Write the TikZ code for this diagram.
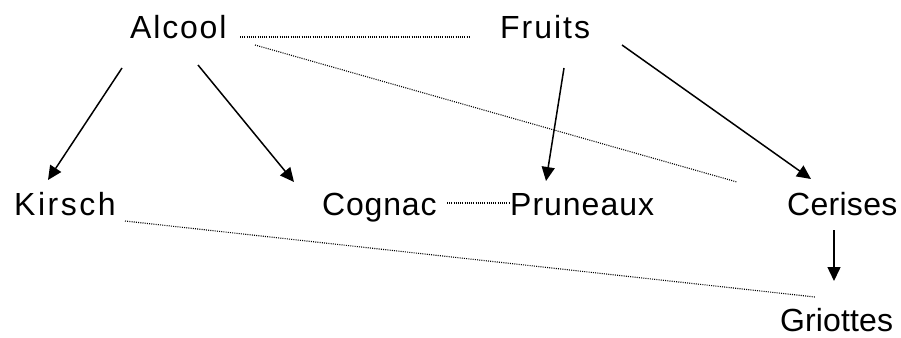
\documentclass[tikz,border=0pt]{standalone}
\usepackage{fontspec}
\setmainfont{Liberation Sans}
\usetikzlibrary{arrows.meta}
\begin{document}
\begin{tikzpicture}[x=1pt,y=-1pt,
  lbl/.style={anchor=base west,inner sep=0pt,font=\fontsize{32}{36}\selectfont\addfontfeature{LetterSpace=#1}},
  arr/.style={line width=1.5pt,-{Triangle[length=14pt,width=13pt]}},
  dots/.style={line width=1.1pt,dash pattern=on 1pt off 1.2pt}]
\useasboundingbox (0,0) rectangle (901,337);
\node[lbl=5.7] (alcool) at (130,38) {Alcool};
\node[lbl=6.2] (fruits) at (500,38) {Fruits};
\node[lbl=7.8] (kirsch) at (14,215) {Kirsch};
\node[lbl=2.6] (cognac) at (322,215) {Cognac};
\node[lbl=3.1] (pruneaux) at (510,215) {Pruneaux};
\node[lbl=0.9] (cerises) at (787,215) {Cerises};
\node[lbl=0.4] (griottes) at (780,331) {Griottes};
\draw[dots] ([shift={(110,-1)}]alcool.base west) -- ([shift={(-30,-1)}]fruits.base west);
\draw[dots] ([shift={(125,7)}]alcool.base west) -- ([shift={(-50,-33)}]cerises.base west);
\draw[arr] ([shift={(-8,30)}]alcool.base west) -- ([shift={(34,-35)}]kirsch.base west);
\draw[arr] ([shift={(68,27)}]alcool.base west) -- ([shift={(-28,-33)}]cognac.base west);
\draw[arr] ([shift={(64,30)}]fruits.base west) -- ([shift={(36,-34)}]pruneaux.base west);
\draw[arr] ([shift={(122,7)}]fruits.base west) -- ([shift={(24,-36)}]cerises.base west);
\draw[dots] ([shift={(125,-12)}]cognac.base west) -- ([shift={(-1,-12)}]pruneaux.base west);
\draw[dots] ([shift={(111,6)}]kirsch.base west) -- ([shift={(35,-34)}]griottes.base west);
\draw[arr] ([shift={(47,15)}]cerises.base west) -- ([shift={(54,-50)}]griottes.base west);
\end{tikzpicture}
\end{document}
